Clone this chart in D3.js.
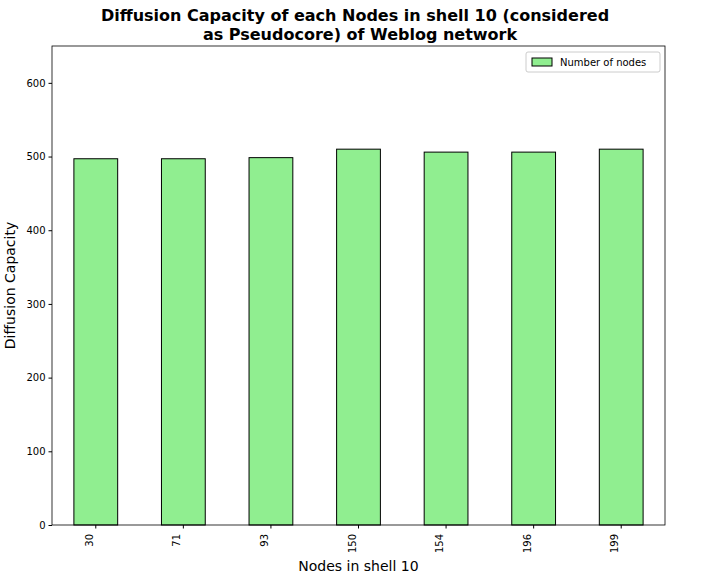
<!DOCTYPE html>
<html><head><meta charset="utf-8">
<script src="https://cdn.jsdelivr.net/npm/d3@7"></script>
<style>body{margin:0;background:#fff}text{font-family:"DejaVu Sans",sans-serif}</style>
</head><body><svg id="c" width="721" height="574"></svg>
<script>
var nodes = ["30", "71", "93", "150", "154", "196", "199"];
var capacity = [497, 497, 498.5, 510, 506, 506, 510];
var yTicks = [0, 100, 200, 300, 400, 500, 600];

var margin = {top: 46, right: 56, bottom: 49, left: 52};
var svg = d3.select("#c"),
    w = 721 - margin.left - margin.right,
    h = 574 - margin.top - margin.bottom;
var g = svg.append("g").attr("transform", "translate(" + margin.left + "," + margin.top + ")");

var x = d3.scaleBand().domain(nodes).range([0, w]).paddingInner(0.5).paddingOuter(0.25);
var y = d3.scaleLinear().domain([0, 650]).range([h, 0]);

g.selectAll("rect.bar").data(capacity).enter().append("rect")
    .attr("class", "bar")
    .attr("x", function(d, i) { return x(nodes[i]); })
    .attr("y", function(d) { return y(d); })
    .attr("width", x.bandwidth())
    .attr("height", function(d) { return h - y(d); })
    .attr("fill", "#90ee90").attr("stroke", "#000").attr("stroke-width", 1);

var ya = g.append("g").call(d3.axisLeft(y).tickValues(yTicks).tickSizeOuter(0).tickSize(3.5));
ya.selectAll("text").attr("font-size", 10).attr("fill", "#000");
var xa = g.append("g").attr("transform", "translate(0," + h + ")").call(d3.axisBottom(x).tickSizeOuter(0).tickSize(3.5));
xa.selectAll("text").attr("font-size", 10).attr("fill", "#000")
    .attr("transform", "rotate(-90)").attr("text-anchor", "end").attr("dx", "-0.6em").attr("dy", "-0.3em").attr("y", 0).attr("x", -3);
svg.selectAll(".domain").remove();
g.append("rect").attr("width", w).attr("height", h).attr("fill", "none").attr("stroke", "#000").attr("stroke-width", 0.8);

svg.append("text").attr("x", 355).attr("y", 21).attr("text-anchor", "middle").attr("font-size", 16).attr("font-weight", "bold")
    .text("Diffusion Capacity of each Nodes in shell 10 (considered");
svg.append("text").attr("x", 360).attr("y", 40).attr("text-anchor", "middle").attr("font-size", 16).attr("font-weight", "bold")
    .text("as Pseudocore) of Weblog network");
svg.append("text").attr("x", margin.left + w / 2).attr("y", 571).attr("text-anchor", "middle").attr("font-size", 14)
    .text("Nodes in shell 10");
svg.append("text").attr("transform", "translate(15," + (margin.top + h / 2) + ") rotate(-90)").attr("text-anchor", "middle").attr("font-size", 14)
    .text("Diffusion Capacity");

var lg = g.append("g").attr("transform", "translate(" + (w - 139) + ",6)");
lg.append("rect").attr("width", 134).attr("height", 20).attr("fill", "#fff").attr("stroke", "#ccc").attr("rx", 2);
lg.append("rect").attr("x", 6).attr("y", 6).attr("width", 20).attr("height", 8).attr("fill", "#90ee90").attr("stroke", "#000");
lg.append("text").attr("x", 34).attr("y", 14).attr("font-size", 10).text("Number of nodes");
</script></body></html>
